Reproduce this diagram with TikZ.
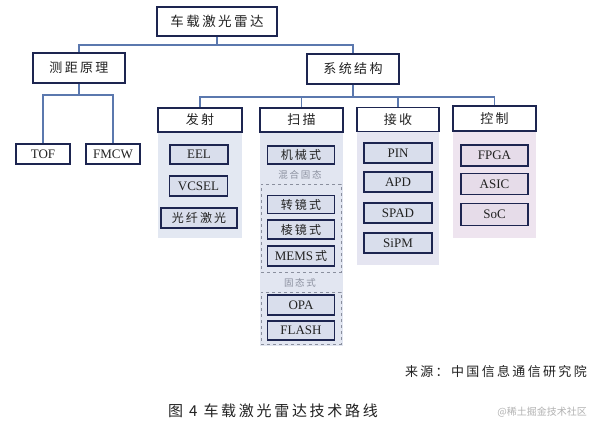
\documentclass[tikz,border=0pt]{standalone}
\usepackage{fontspec}
\setmainfont{Liberation Serif}
\newfontfamily\cjk[LetterSpace=18]{Noto Sans CJK SC}
\newfontfamily\cjkw{Noto Sans CJK SC}
\usetikzlibrary{positioning}
\definecolor{bordc}{HTML}{1D2550}
\definecolor{connc}{HTML}{5B78AE}
\definecolor{panelA}{HTML}{E3E8F2}
\definecolor{panelB}{HTML}{E2E6F1}
\definecolor{panelC}{HTML}{E5E5F1}
\definecolor{panelD}{HTML}{EEE4EF}
\definecolor{itemf}{HTML}{D9DEEC}
\definecolor{itemd}{HTML}{E6DCE9}
\definecolor{txtc}{HTML}{222222}
\definecolor{grayc}{HTML}{8A8F9E}
\tikzset{
  x=1pt, y=-1pt,
  box/.style={draw=bordc, line width=1.2pt, fill=white, inner sep=0pt, text=txtc, font=\fontsize{13}{13}\selectfont},
  item/.style={draw=bordc, line width=1.1pt, fill=itemf, inner sep=0pt, text=txtc, minimum width=#1, font=\fontsize{13}{13}\selectfont},
  item/.default=67,
  panel/.style={fill=#1, draw=none, inner sep=0pt},
  dbox/.style={draw=grayc, dashed, line width=0.9pt, inner sep=0pt},
  conn/.style={draw=connc, line width=1.3pt},
  glabel/.style={text=grayc, font=\fontsize{9.5}{10}\selectfont, inner sep=0pt}
}
\begin{document}
\begin{tikzpicture}
\useasboundingbox[fill=white] (0,0) rectangle (589,429);
% panels
\node[panel=panelA, minimum width=84, minimum height=106] (pA) at (200,185) {};
\node[panel=panelB, minimum width=83, minimum height=214] (pB) at (301.5,239) {};
\node[panel=panelC, minimum width=82, minimum height=134] (pC) at (398,198) {};
\node[panel=panelD, minimum width=83, minimum height=107] (pD) at (494.5,184.5) {};
% top levels
\node[box, minimum width=120, minimum height=29, font=\fontsize{13.5}{13.5}\selectfont] (root) at (217,21.5) {\cjk 车载激光雷达};
\node[box, minimum width=92, minimum height=30] (rang) at (79,68) {\cjk 测距原理};
\node[box, minimum width=92, minimum height=30] (sys) at (353,69) {\cjk 系统结构};
\node[box, minimum width=54, minimum height=20] (tof) at (43,154) {TOF};
\node[box, minimum width=54, minimum height=20] (fmcw) at (113,154) {FMCW};
% headers
\node[box, minimum width=84, minimum height=24] (hA) at (200,120) {\cjk 发射};
\node[box, minimum width=83, minimum height=24] (hB) at (301.5,120) {\cjk 扫描};
\node[box, minimum width=82, minimum height=24] (hC) at (398,119.5) {\cjk 接收};
\node[box, minimum width=83, minimum height=25] (hD) at (494.5,118.5) {\cjk 控制};
% connectors
\coordinate (b1) at (217,45);
\coordinate (b2) at (79,95);
\coordinate (b3) at (353,97);
\draw[conn] (root.south) -- (b1);
\draw[conn] (b1) -| (rang.north);
\draw[conn] (b1) -| (sys.north);
\draw[conn] (rang.south) -- (b2);
\draw[conn] (b2) -| (tof.north);
\draw[conn] (b2) -| (fmcw.north);
\draw[conn] (sys.south) -- (b3);
\draw[conn] (b3) -| (hA.north);
\draw[conn] (b3) -| (hB.north);
\draw[conn] (b3) -| (hC.north);
\draw[conn] (b3) -| (hD.north);
% emission items
\node[item=58, minimum height=19] (eel) at (199,154.5) {EEL};
\node[item=58, minimum height=20] (vcsel) at (198.5,186) {VCSEL};
\node[item=76, minimum height=20, font=\fontsize{12}{12}\selectfont] (fiber) at (199,218) {\cjk 光纤激光};
% scanning items
\node[item, minimum height=18, font=\fontsize{12}{12}\selectfont] (mech) at (301,155) {\cjk 机械式};
\node[glabel] (hyb) at (300,175) {\cjk 混合固态};
\node[dbox, minimum width=80, minimum height=88] (d1) at (301,228) {};
\node[item, minimum height=18, font=\fontsize{12}{12}\selectfont] (rot) at (301,204.5) {\cjk 转镜式};
\node[item, minimum height=19, font=\fontsize{12}{12}\selectfont] (prism) at (301,229.5) {\cjk 棱镜式};
\node[item, minimum height=20] (mems) at (301,256) {MEMS\,{\cjkw\fontsize{12}{12}\selectfont 式}};
\node[glabel] (solid) at (300,283) {\cjk 固态式};
\node[dbox, minimum width=80, minimum height=52] (d2) at (301,318) {};
\node[item, minimum height=20] (opa) at (301,305) {OPA};
\node[item, minimum height=19] (flash) at (301,330.5) {FLASH};
% receiving items
\node[item=68, minimum height=20] (pin) at (398,153) {PIN};
\node[item=68, minimum height=20] (apd) at (398,182) {APD};
\node[item=68, minimum height=20] (spad) at (398,213) {SPAD};
\node[item=68, minimum height=20] (sipm) at (398,243) {SiPM};
% control items
\node[item, minimum height=21, fill=itemd] (fpga) at (494.5,155.5) {FPGA};
\node[item, minimum height=21, fill=itemd] (asic) at (494.5,184) {ASIC};
\node[item, minimum height=22, fill=itemd] (soc) at (494.5,214.5) {SoC};
% footer
\node[anchor=east, inner sep=0pt, text=txtc, font=\fontsize{13}{13}\selectfont] (src) at (587,372) {\cjk 来源：中国信息通信研究院};
\node[anchor=west, inner sep=0pt, text=txtc, font=\fontsize{15}{15}\selectfont] (cap) at (168,411) {\cjk 图\hspace{6pt}4\hspace{6pt}车载激光雷达技术路线};
\node[anchor=east, inner sep=0pt, text=black!30, font=\fontsize{10}{10}\selectfont] (wm) at (587,412) {\cjkw @稀土掘金技术社区};
\end{tikzpicture}
\end{document}
